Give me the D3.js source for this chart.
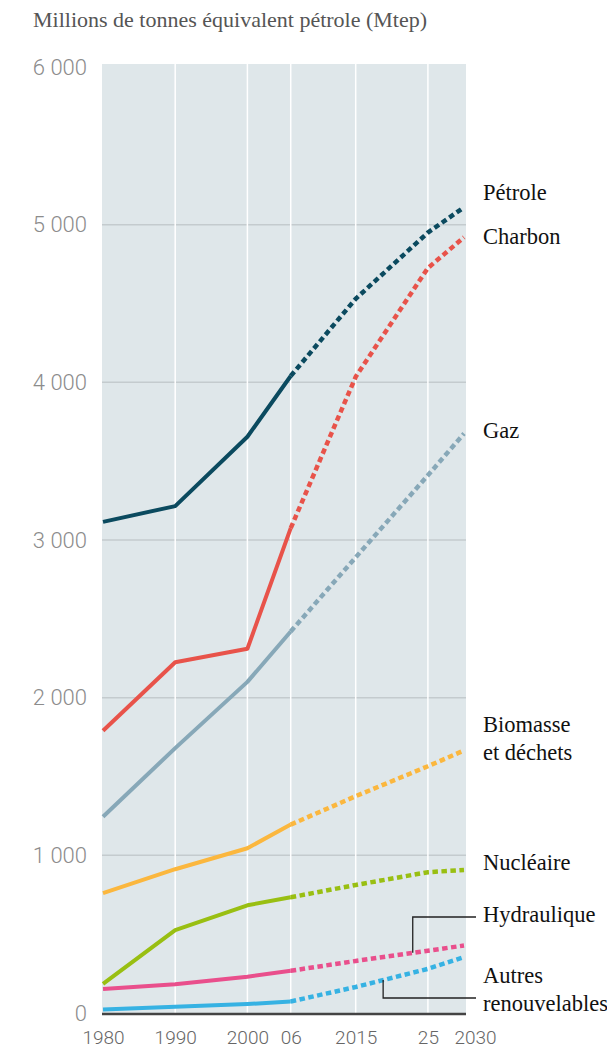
<!DOCTYPE html>
<html lang="fr">
<head>
  <meta charset="UTF-8">
  <title>Millions de tonnes équivalent pétrole (Mtep)</title>
  <style>
    body {
      margin: 0;
      background: #fff;
    }
    svg {
      display: block;
    }
    .title {
      font-family: "Liberation Serif", serif;
      font-size: 22px;
      fill: #555;
    }
    .ytick text {
      font-family: Roboto, "Liberation Sans", sans-serif;
      font-weight: 300;
      font-size: 22px;
      fill: #8c8c8c;
    }
    .xtick text {
      font-family: Roboto, "Liberation Sans", sans-serif;
      font-weight: 300;
      font-size: 19px;
      fill: #666;
    }
    .label {
      font-family: "Liberation Serif", serif;
      font-size: 22.5px;
      fill: #111;
    }
  </style>
</head>
<body>
  <svg width="607" height="1050"></svg>

  <script src="https://d3js.org/d3.v7.min.js"></script>
  <script>
    // Données (Mtep)
    const years = [1980, 1990, 2000, 2006, 2015, 2025, 2030];
    const xTickLabels = ["1980", "1990", "2000", "06", "2015", "25", "2030"];
    const yTicks = [0, 1000, 2000, 3000, 4000, 5000, 6000];

    const petrole     = [3115, 3215, 3655, 4040, 4530, 4950, 5110];
    const charbon     = [1790, 2225, 2310, 3075, 4035, 4725, 4920];
    const gaz         = [1245, 1680, 2100, 2420, 2890, 3410, 3675];
    const biomasse    = [760, 912, 1045, 1195, 1375, 1565, 1665];
    const nucleaire   = [185, 525, 683, 734, 812, 893, 907];
    const hydraulique = [152, 183, 230, 268, 330, 395, 428];
    const autres      = [22, 40, 57, 73, 165, 280, 355];

    const lastObserved = 2006; // après : projections (pointillés)

    const series = [
      { name: ["Pétrole"], values: petrole, color: "#0b4a5f" },
      { name: ["Charbon"], values: charbon, color: "#e8534a" },
      { name: ["Gaz"], values: gaz, color: "#87a8b8" },
      { name: ["Biomasse", "et déchets"], values: biomasse, color: "#fbb73e" },
      { name: ["Nucléaire"], values: nucleaire, color: "#99bf12" },
      { name: ["Hydraulique"], values: hydraulique, color: "#e94f8c" },
      { name: ["Autres", "renouvelables"], values: autres, color: "#36b2e3" }
    ];

    const svg = d3.select("svg");
    const plotLeft = 103, plotRight = 464, plotTop = 67, plotBottom = 1013;

    const x = d3.scaleLinear().domain([1980, 2030]).range([plotLeft, plotRight]);
    const y = d3.scaleLinear().domain([0, 6000]).range([plotBottom, plotTop]);

    // Titre
    svg.append("text")
      .attr("class", "title")
      .attr("x", 33)
      .attr("y", 27)
      .text("Millions de tonnes équivalent pétrole (Mtep)");

    // Fond du graphique
    svg.append("rect")
      .attr("x", plotLeft - 1)
      .attr("y", plotTop - 3)
      .attr("width", plotRight - plotLeft + 3)
      .attr("height", plotBottom - plotTop + 3)
      .attr("fill", "#dfe7ea");

    // Grille horizontale
    svg.append("g")
      .selectAll("line")
      .data(yTicks.filter(d => d > 0 && d < 6000))
      .join("line")
      .attr("x1", plotLeft - 1)
      .attr("x2", plotRight + 2)
      .attr("y1", d => y(d))
      .attr("y2", d => y(d))
      .attr("stroke", "#c4cbce")
      .attr("stroke-width", 1.5);

    // Grille verticale
    svg.append("g")
      .selectAll("line")
      .data(years.slice(1, -1))
      .join("line")
      .attr("x1", d => x(d))
      .attr("x2", d => x(d))
      .attr("y1", plotTop - 3)
      .attr("y2", plotBottom)
      .attr("stroke", "#fff")
      .attr("stroke-width", 1.5);

    // Axe Y (étiquettes)
    const yAxis = d3.axisLeft(y)
      .tickValues(yTicks)
      .tickSize(0)
      .tickPadding(0)
      .tickFormat(d => d === 0 ? "0" : d3.format(",")(d).replace(",", " "));
    svg.append("g")
      .attr("class", "ytick")
      .attr("transform", `translate(${plotLeft - 16},0)`)
      .call(yAxis)
      .call(g => g.select(".domain").remove());

    // Axe X
    const xAxis = d3.axisBottom(x)
      .tickValues(years)
      .tickSize(0)
      .tickPadding(0)
      .tickFormat((d, i) => xTickLabels[i]);
    svg.append("g")
      .attr("class", "xtick")
      .attr("transform", `translate(0,${plotBottom + 17})`)
      .call(xAxis)
      .call(g => g.select(".domain").remove())
      .call(g => g.selectAll("text").attr("dy", "0.71em"))
      .call(g => g.selectAll(".tick").filter(d => d === 2030).select("text").attr("dx", 11));

    // Ligne de base
    svg.append("line")
      .attr("x1", plotLeft - 1)
      .attr("x2", plotRight + 2)
      .attr("y1", plotBottom + 1)
      .attr("y2", plotBottom + 1)
      .attr("stroke", "#444")
      .attr("stroke-width", 2.5);

    // Courbes
    const line = d3.line()
      .x(d => x(d[0]))
      .y(d => y(d[1]));

    const lines = svg.append("g").attr("fill", "none");
    series.forEach(s => {
      const pts = years.map((yr, i) => [yr, s.values[i]]);
      const solid = pts.filter(p => p[0] <= lastObserved);
      const dashed = pts.filter(p => p[0] >= lastObserved);
      lines.append("path")
        .attr("d", line(dashed))
        .attr("stroke", s.color)
        .attr("stroke-width", 4.5)
        .attr("stroke-dasharray", "5.5,3.5");
      lines.append("path")
        .attr("d", line(solid))
        .attr("stroke", s.color)
        .attr("stroke-width", 4)
        .attr("stroke-linejoin", "round");
    });

    // Étiquettes à droite
    const labelX = 483;
    const labelY = {
      "Pétrole": 200, "Charbon": 244, "Gaz": 438,
      "Biomasse": 732, "Nucléaire": 870, "Hydraulique": 922, "Autres": 983
    };
    series.forEach(s => {
      const t = svg.append("text")
        .attr("class", "label")
        .attr("x", labelX)
        .attr("y", labelY[s.name[0]]);
      s.name.forEach((n, i) => {
        t.append("tspan")
          .attr("x", labelX)
          .attr("dy", i === 0 ? 0 : 28)
          .text(n);
      });
    });

    // Traits de rappel
    function valueAt(values, yr) {
      const i = d3.bisectRight(years, yr) - 1;
      const t = (yr - years[i]) / (years[i + 1] - years[i]);
      return values[i] + t * (values[i + 1] - values[i]);
    }
    const leaders = [
      { values: hydraulique, year: 2022.9, yLine: 917 },
      { values: autres, year: 2018.8, yLine: 998 }
    ];
    svg.append("g")
      .selectAll("path")
      .data(leaders)
      .join("path")
      .attr("fill", "none")
      .attr("stroke", "#222")
      .attr("stroke-width", 1.3)
      .attr("d", d => {
        const px = x(d.year);
        const py = y(valueAt(d.values, d.year));
        return `M${px},${py}V${d.yLine}H476`;
      });
  </script>
</body>
</html>
